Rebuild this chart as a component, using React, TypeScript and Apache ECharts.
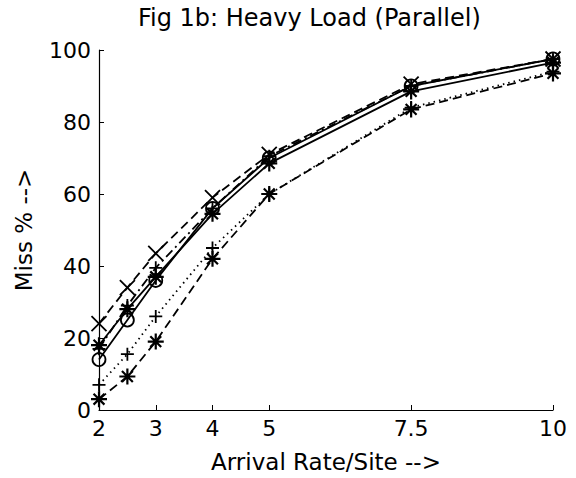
import React, { useEffect, useRef } from "react";
import * as echarts from "echarts";

const xValues = [2, 2.5, 3, 4, 5, 7.5, 10];
const xTicks = [2, 3, 4, 5, 7.5, 10];
const yTicks = [0, 20, 40, 60, 80, 100];

const circleSolid = [14, 25, 36, 56, 70, 90, 97.5];
const starSolid = [18, 28, 37, 54.5, 68.5, 88.5, 96.5];
const crossDashed = [24, 34, 43.5, 59, 71, 90.5, 97.5];
const plusDashDot = [17, 29, 39.5, 56, 70.5, 90, 97.5];
const plusDotted = [7, 15.5, 26, 45, 60, 84, 94];
const starDashed = [3, 9.3, 19, 42, 60, 83.5, 93.5];

const FONT = "DejaVu Sans";

const SYM_X = "path://M0,0L10,10M10,0L0,10";
const SYM_PLUS = "path://M5,0L5,10M0,5L10,5";
const SYM_STAR = "path://M5,0L5,10M0,5L10,5M1.6,1.6L8.4,8.4M8.4,1.6L1.6,8.4";

function mk(name: string, values: number[], symbol: string, size: number, dash: any, bw: number) {
  return {
    name,
    type: "line",
    data: xValues.map((x, i) => [x, values[i]]),
    symbol,
    symbolSize: size,
    showSymbol: true,
    lineStyle: { color: "#000", width: 1.8, type: dash },
    itemStyle: { color: "transparent", borderColor: "#000", borderWidth: bw },
    emphasis: { disabled: true },
    z: 2,
  };
}

export default function App() {
  const ref = useRef<HTMLDivElement>(null);
  useEffect(() => {
    if (!ref.current) return;
    const chart = echarts.init(ref.current, null, { renderer: "svg" });
    chart.setOption({
      animation: false,
      backgroundColor: "#fff",
      title: {
        text: "Fig 1b: Heavy Load (Parallel)",
        left: 133,
        top: 1,
        textStyle: { fontFamily: FONT, fontSize: 24, fontWeight: "normal", color: "#000" },
      },
      grid: { left: 99, right: 23, top: 50, bottom: 66 },
      xAxis: {
        type: "value",
        min: 2,
        max: 10,
        name: "Arrival Rate/Site -->",
        nameLocation: "middle",
        nameGap: 40,
        nameTextStyle: { fontFamily: FONT, fontSize: 23, color: "#000" },
        axisLine: { show: true, lineStyle: { color: "#000", width: 1.2 } },
        axisTick: { show: true, inside: true, length: 5, customValues: xTicks, lineStyle: { color: "#000" } },
        axisLabel: {
          customValues: xTicks,
          fontFamily: FONT,
          fontSize: 22,
          color: "#000",
          margin: 7,
          formatter: (v: number) => String(v),
        },
        splitLine: { show: false },
      },
      yAxis: {
        type: "value",
        min: 0,
        max: 100,
        interval: 20,
        name: "Miss % -->",
        nameLocation: "middle",
        nameGap: 64,
        nameTextStyle: { fontFamily: FONT, fontSize: 23, color: "#000" },
        axisLine: { show: true, lineStyle: { color: "#000", width: 1.2 } },
        axisTick: { show: true, inside: true, length: 5, lineStyle: { color: "#000" } },
        axisLabel: {
          fontFamily: FONT,
          fontSize: 22,
          color: "#000",
          margin: 8,
          formatter: (v: number) => (yTicks.includes(v) ? String(v) : ""),
        },
        splitLine: { show: false },
      },
      series: [
        mk("o solid", circleSolid, "circle", 13, "solid", 1.8),
        mk("* solid", starSolid, SYM_STAR, 16, "solid", 2.2),
        mk("x dashed", crossDashed, SYM_X, 15, [9, 5], 1.8),
        mk("+ dash-dot", plusDashDot, SYM_PLUS, 13, [9, 4, 2, 4], 1.8),
        mk("+ dotted", plusDotted, SYM_PLUS, 13, [1.5, 4], 1.8),
        mk("* dashed", starDashed, SYM_STAR, 16, [9, 5], 2.2),
      ],
    });
    return () => chart.dispose();
  }, []);
  return (
    <div
      ref={ref}
      style={{ position: "absolute", left: 0, top: 0, width: 576, height: 478 }}
    />
  );
}
